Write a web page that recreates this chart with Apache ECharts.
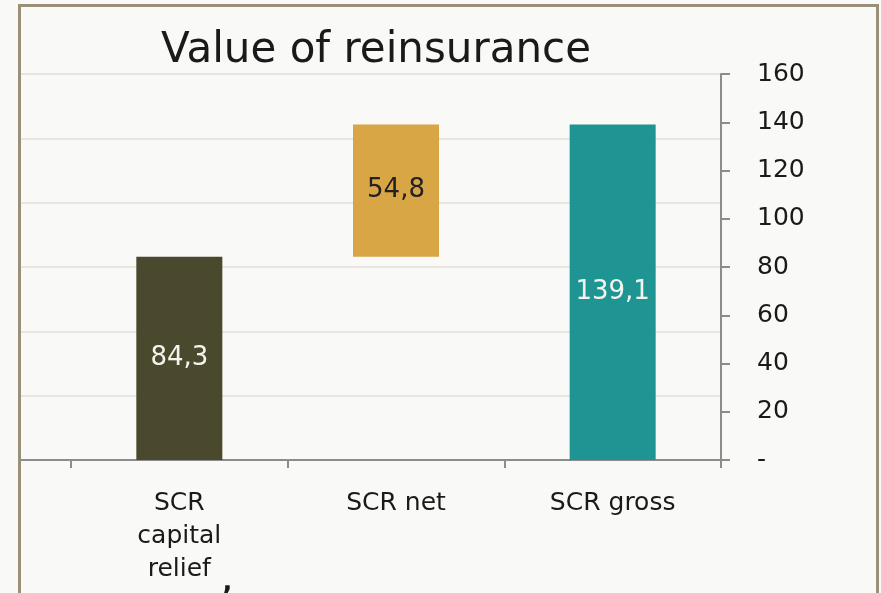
<!DOCTYPE html>
<html>
<head>
<meta charset="utf-8">
<script src="https://cdn.jsdelivr.net/npm/echarts@6/dist/echarts.min.js"></script>
<style>
  html, body { margin: 0; padding: 0; background: #f9f9f7; }
  #chart { width: 881px; height: 593px; }
</style>
</head>
<body>
<div id="chart"></div>
<script>
// waterfall: relief + net = gross
const categories = ['SCR\ncapital\nrelief', 'SCR net', 'SCR gross'];
const baseValues = [0, 84.3, 0];
const barValues = [84.3, 54.8, 139.1];
const barColors = ['#4a482d', '#d9a645', '#1f9593'];
const labelColors = ['#f4f4ee', '#222222', '#f4f4ee'];
const yTicks = [0, 20, 40, 60, 80, 100, 120, 140, 160];

const font = 'DejaVu Sans';

const chart = echarts.init(document.getElementById('chart'));

const option = {
  backgroundColor: '#f9f9f7',
  animation: false,
  title: {
    text: 'Value of reinsurance',
    left: 371,
    top: 25,
    textAlign: 'center',
    textStyle: { fontFamily: font, fontSize: 42, fontWeight: 'normal', color: '#1a1a1a' }
  },
  graphic: [
    {
      type: 'rect',
      shape: { x: 19.5, y: 5.5, width: 858, height: 700 },
      style: { fill: 'none', stroke: '#9a9079', lineWidth: 3 }
    },
    {
      // stray comma below the first category label
      type: 'text',
      x: 220,
      y: 558,
      style: { text: ',', fontFamily: font, fontSize: 44, fill: '#1a1a1a', verticalAlign: 'top' }
    }
  ],
  grid: [
    // wide grid: gridlines and axis line reach to the frame
    { left: 21, right: 160, top: 74, bottom: 133 },
    // category grid
    { left: 71, right: 160, top: 74, bottom: 133 }
  ],
  xAxis: [
    {
      gridIndex: 0,
      type: 'value',
      min: 0,
      max: 1,
      axisLine: { show: true, lineStyle: { color: '#8c8c8c', width: 2 } },
      axisTick: { show: false },
      axisLabel: { show: false },
      splitLine: { show: false }
    },
    {
      gridIndex: 1,
      type: 'category',
      data: categories,
      axisLine: { show: true, lineStyle: { color: '#8c8c8c', width: 2 } },
      axisTick: { show: true, interval: 0, length: 8, lineStyle: { color: '#8c8c8c', width: 2 } },
      axisLabel: {
        interval: 0,
        fontFamily: font,
        fontSize: 25,
        color: '#1a1a1a',
        margin: 27,
        lineHeight: 33
      }
    }
  ],
  yAxis: [
    {
      gridIndex: 0,
      type: 'value',
      min: 0,
      max: 160,
      interval: 160 / 6,
      axisLine: { show: false },
      axisTick: { show: false },
      axisLabel: { show: false },
      splitLine: { show: true, lineStyle: { color: '#e6e6df', width: 2 } }
    },
    {
      gridIndex: 1,
      type: 'value',
      position: 'right',
      min: yTicks[0],
      max: yTicks[yTicks.length - 1],
      interval: yTicks[1] - yTicks[0],
      axisLine: { show: true, lineStyle: { color: '#8c8c8c', width: 2 } },
      axisTick: { show: true, length: 9, lineStyle: { color: '#8c8c8c', width: 2 } },
      splitLine: { show: false },
      axisLabel: {
        fontFamily: font,
        fontSize: 25,
        color: '#1a1a1a',
        margin: 36,
        formatter: v => (v === 0 ? '-' : String(v))
      }
    }
  ],
  series: [
    {
      type: 'bar',
      xAxisIndex: 1,
      yAxisIndex: 1,
      stack: 'fall',
      barWidth: 86,
      itemStyle: { color: 'transparent' },
      silent: true,
      data: baseValues
    },
    {
      type: 'bar',
      xAxisIndex: 1,
      yAxisIndex: 1,
      stack: 'fall',
      barWidth: 86,
      data: barValues.map((v, i) => ({
        value: v,
        itemStyle: { color: barColors[i] },
        label: { color: labelColors[i] }
      })),
      label: {
        show: true,
        position: 'inside',
        fontFamily: font,
        fontSize: 26,
        formatter: p => p.value.toFixed(1).replace('.', ',')
      }
    }
  ]
};

chart.setOption(option);
</script>
</body>
</html>
